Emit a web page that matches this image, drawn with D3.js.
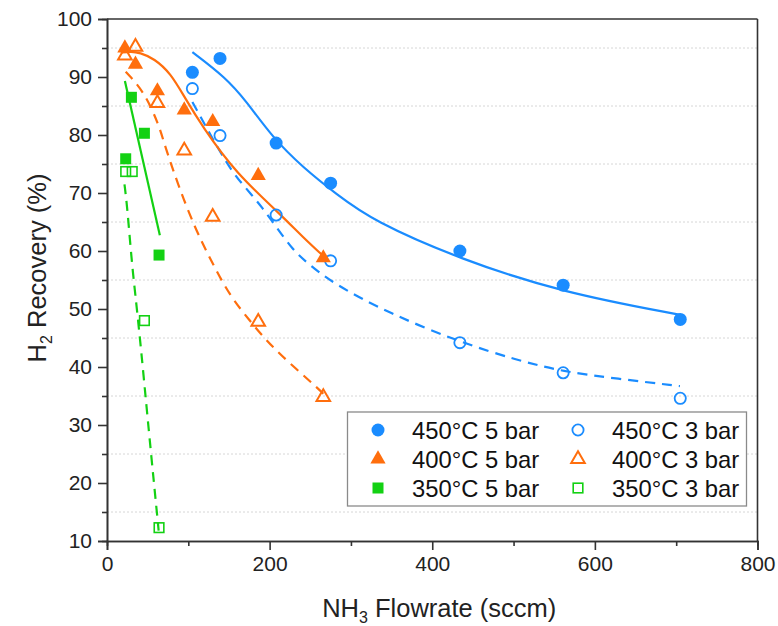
<!DOCTYPE html>
<html>
<head>
<meta charset="utf-8">
<script src="https://cdn.jsdelivr.net/npm/d3@7"></script>
<style>
  html, body { margin: 0; padding: 0; background: #fff; }
  svg { display: block; font-family: "Liberation Sans", Arial, sans-serif; }
</style>
</head>
<body>
<svg id="chart" width="778" height="626"></svg>
<script>
// Measured H2 recovery vs. NH3 flowrate
const flow450 = [105, 139, 208, 275, 434, 561, 705];
const rec450_5 = [90.8, 93.2, 78.6, 71.7, 60.0, 54.1, 48.2];
const rec450_3 = [88.0, 79.9, 66.2, 58.3, 44.2, 39.0, 34.6];

const flow400 = [22, 35, 62, 95, 130, 186, 266];
const rec400_5 = [95.0, 92.2, 87.6, 84.3, 82.3, 73.0, 58.8];
const rec400_3 = [93.7, 95.2, 85.5, 77.3, 65.9, 47.8, 34.8];

const flow350_5 = [23, 30, 46, 64];
const rec350_5 = [75.9, 86.5, 80.3, 59.3];
const flow350_3 = [23, 31, 46, 64];
const rec350_3 = [73.7, 73.7, 48.0, 12.3];

// Trend curves (flowrate, recovery)
const fit450_5_x = [105, 146, 171, 204, 241, 282, 327, 434, 561, 705];
const fit450_5_y = [94.3, 89.9, 85.9, 79.5, 74.4, 69.8, 65.2, 58.6, 52.8, 49.0];
const fit450_3_x = [105, 150, 170, 191.5, 208, 228.5, 245, 277.6, 347.7, 434, 503.6, 561, 626.6, 704.6];
const fit450_3_y = [85.7, 74.2, 71.0, 67.4, 64.2, 60.2, 58.1, 54.4, 49.2, 44.3, 41.2, 39.2, 38.0, 36.7];
const fit400_5_x = [17, 30, 40, 58, 78.5, 95, 117.5, 158.7, 212, 240.8, 265.5];
const fit400_5_y = [94.2, 94.4, 94.2, 93.2, 90.6, 86.6, 81.4, 73.4, 66.5, 62.4, 59.2];
const fit400_3_x = [23, 45.6, 64, 70.3, 86.7, 107.3, 127.8, 150.4, 175, 195.6, 220.3, 257.3, 266];
const fit400_3_y = [90.9, 87.5, 81.7, 78.5, 71.7, 64.2, 58.4, 52.4, 48.1, 44.6, 41.2, 36.6, 35.4];
const fit350_5_x = [22, 65];
const fit350_5_y = [89.3, 62.7];
const fit350_3_x = [21.5, 25, 31, 38.6, 51.8, 62, 63.5];
const fit350_3_y = [71.5, 67.5, 57, 48, 28.4, 14, 11.8];

const xTicks = [0, 200, 400, 600, 800];
const xMinorTicks = [100, 300, 500, 700];
const yTicks = [10, 20, 30, 40, 50, 60, 70, 80, 90, 100];
const yMinorTicks = [15, 25, 35, 45, 55, 65, 75, 85, 95];

const legendLabels = ["450°C 5 bar", "450°C 3 bar", "400°C 5 bar", "400°C 3 bar", "350°C 5 bar", "350°C 3 bar"];

const BLUE = "#1a8cff", ORANGE = "#ff6e0d", GREEN = "#13d113";

const svg = d3.select("#chart");
const L = 107, R = 757.5, T = 19, B = 541;

const x = d3.scaleLinear().domain([0, 800]).range([L, R]);
const y = d3.scaleLinear().domain([10, 100]).range([B, T]);

// dotted grid lines at the half-decade values
svg.append("g").selectAll("line").data(yMinorTicks).join("line")
  .attr("x1", L).attr("x2", R)
  .attr("y1", d => y(d)).attr("y2", d => y(d))
  .attr("stroke", "#d6d6d6").attr("stroke-width", 1).attr("stroke-dasharray", "2,2");

// frame top and right
svg.append("line").attr("x1", L).attr("x2", R).attr("y1", T).attr("y2", T)
  .attr("stroke", "#333").attr("stroke-width", 1.6);
svg.append("line").attr("x1", R).attr("x2", R).attr("y1", T).attr("y2", B)
  .attr("stroke", "#333").attr("stroke-width", 1.6);

// axes
const xAxis = d3.axisBottom(x).tickValues(xTicks).tickSize(9).tickPadding(6).tickFormat(d3.format("d"));
const xMinor = d3.axisBottom(x).tickValues(xMinorTicks).tickSize(5).tickFormat("");
const yAxis = d3.axisLeft(y).tickValues(yTicks).tickSize(9).tickPadding(6).tickFormat(d3.format("d"));
const yMinor = d3.axisLeft(y).tickValues(yMinorTicks).tickSize(5).tickFormat("");

function styleAxis(g) {
  g.select(".domain").attr("stroke", "#333").attr("stroke-width", 1.6);
  g.selectAll(".tick line").attr("stroke", "#333").attr("stroke-width", 1.6);
  g.selectAll(".tick text").attr("fill", "#222").attr("font-size", 21)
    .attr("font-family", "Liberation Sans, Arial, sans-serif");
}
svg.append("g").attr("transform", `translate(0,${B})`).call(xMinor).call(styleAxis);
svg.append("g").attr("transform", `translate(0,${B})`).call(xAxis).call(styleAxis);
svg.append("g").attr("transform", `translate(${L},0)`).call(yMinor).call(styleAxis);
svg.append("g").attr("transform", `translate(${L},0)`).call(yAxis).call(styleAxis);

// axis titles
const xt = svg.append("text").attr("x", (L + R) / 2 + 7).attr("y", 617)
  .attr("text-anchor", "middle").attr("font-size", 25.5).attr("fill", "#222");
xt.append("tspan").text("NH");
xt.append("tspan").text("3").attr("font-size", 16).attr("dy", 6);
xt.append("tspan").text(" Flowrate (sccm)").attr("dy", -6);

const yt = svg.append("text").attr("transform", `translate(46,${(T + B) / 2 - 12}) rotate(-90)`)
  .attr("text-anchor", "middle").attr("font-size", 25.5).attr("fill", "#222");
yt.append("tspan").text("H");
yt.append("tspan").text("2").attr("font-size", 16).attr("dy", 6);
yt.append("tspan").text(" Recovery (%)").attr("dy", -6);

// trend curves
const smooth = d3.line().x(d => x(d[0])).y(d => y(d[1])).curve(d3.curveBasis);
const curves = [
  { xs: fit450_5_x, ys: fit450_5_y, c: BLUE, dash: null },
  { xs: fit450_3_x, ys: fit450_3_y, c: BLUE, dash: "10,7" },
  { xs: fit400_5_x, ys: fit400_5_y, c: ORANGE, dash: null },
  { xs: fit400_3_x, ys: fit400_3_y, c: ORANGE, dash: "10,7" },
  { xs: fit350_5_x, ys: fit350_5_y, c: GREEN, dash: null },
  { xs: fit350_3_x, ys: fit350_3_y, c: GREEN, dash: "10,7" }
];
curves.forEach(cv => {
  svg.append("path").datum(d3.zip(cv.xs, cv.ys))
    .attr("d", smooth).attr("fill", "none").attr("stroke", cv.c)
    .attr("stroke-width", 2.2).attr("stroke-dasharray", cv.dash);
});

// marker drawing
const tri = d3.symbol().type(d3.symbolTriangle).size(100);
const triOpen = d3.symbol().type(d3.symbolTriangle).size(80);
function marker(g, shape, filled, color) {
  if (shape === "circle") {
    g.append("circle").attr("r", filled ? 6.5 : 5.6)
      .attr("fill", filled ? color : "none").attr("stroke", color).attr("stroke-width", filled ? 0 : 1.8);
  } else if (shape === "triangle") {
    g.append("path").attr("d", filled ? tri() : triOpen())
      .attr("fill", filled ? color : "none").attr("stroke", color).attr("stroke-width", filled ? 0 : 2);
  } else {
    const s = filled ? 11 : 9.6;
    g.append("rect").attr("x", -s / 2).attr("y", -s / 2).attr("width", s).attr("height", s)
      .attr("fill", filled ? color : "none").attr("stroke", color).attr("stroke-width", filled ? 0 : 1.6);
  }
}

const series = [
  { xs: flow450, ys: rec450_5, shape: "circle", filled: true, c: BLUE },
  { xs: flow450, ys: rec450_3, shape: "circle", filled: false, c: BLUE },
  { xs: flow400, ys: rec400_5, shape: "triangle", filled: true, c: ORANGE },
  { xs: flow400, ys: rec400_3, shape: "triangle", filled: false, c: ORANGE },
  { xs: flow350_5, ys: rec350_5, shape: "square", filled: true, c: GREEN },
  { xs: flow350_3, ys: rec350_3, shape: "square", filled: false, c: GREEN }
];
series.forEach(s => {
  d3.zip(s.xs, s.ys).forEach(p => {
    const g = svg.append("g").attr("transform", `translate(${x(p[0])},${y(p[1])})`);
    marker(g, s.shape, s.filled, s.c);
  });
});

// legend
const lg = svg.append("g");
lg.append("rect").attr("x", 347.5).attr("y", 412).attr("width", 399).attr("height", 94)
  .attr("fill", "#fff").attr("stroke", "#8a8a8a").attr("stroke-width", 1.3);
series.forEach((s, i) => {
  const col = i % 2, row = Math.floor(i / 2);
  const mx = col === 0 ? 378 : 578;
  const tx = col === 0 ? 412 : 612;
  const cy = 430 + row * 29;
  const g = lg.append("g").attr("transform", `translate(${mx},${cy})`);
  marker(g, s.shape, s.filled, s.c);
  lg.append("text").attr("x", tx).attr("y", cy).attr("dy", "0.36em")
    .attr("font-size", 23.8).attr("fill", "#111").text(legendLabels[i]);
});
</script>
</body>
</html>
